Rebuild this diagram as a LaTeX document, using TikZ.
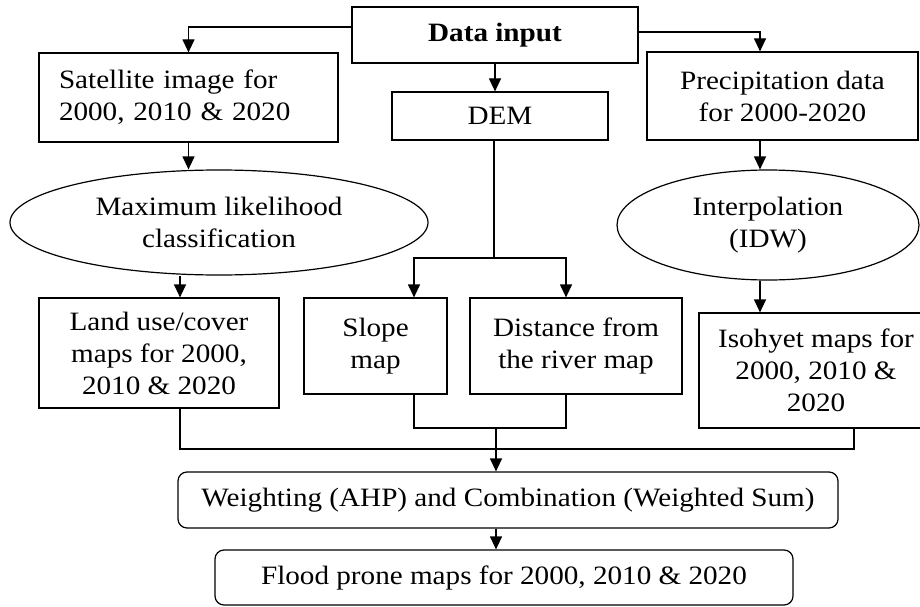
\documentclass[tikz,border=0pt]{standalone}
\usepackage{fontspec}
\setmainfont{Liberation Serif}[FakeStretch=1.1]
\usetikzlibrary{arrows.meta,shapes.geometric}

\begin{document}
\begin{tikzpicture}[x=1pt, y=-1pt, line width=1.2pt,
	font=\fontsize{26.5}{32}\selectfont,
	box/.style={draw, rectangle, inner sep=0pt, align=center},
	rbox/.style={box, rounded corners=9pt},
	oval/.style={draw, ellipse, inner sep=0pt, align=center},
	arr/.style={-{Triangle[length=13pt,width=12pt]}}]
	\useasboundingbox (0,0) rectangle (920,607);

	%inputs
	\node (input) at (495, 35) [box, minimum width=286pt, minimum height=56pt]{\textbf{Data input}};
	\node (sat) at (188.5, 97.5) [box, text width=259pt, inner xsep=20pt, minimum height=89pt, align=left]{Satellite image for\\2000, 2010 \& 2020};
	\node (dem) at (500, 116) [box, minimum width=216pt, minimum height=48pt]{DEM};
	\node (rain) at (782.5, 96) [box, minimum width=271pt, minimum height=88pt]{Precipitation data\\for 2000-2020};

	%processing
	\node (mlc) at (219, 222.5) [oval, minimum width=418pt, minimum height=105pt]{Maximum likelihood\\classification};
	\node (idw) at (768, 225) [oval, minimum width=302pt, minimum height=110pt]{Interpolation\\(IDW)};

	%factor maps
	\node (lulc) at (159, 353) [box, minimum width=240pt, minimum height=110pt]{Land use/cover\\maps for 2000,\\2010 \& 2020};
	\node (slope) at (375.5, 346) [box, minimum width=143pt, minimum height=96pt]{Slope\\map};
	\node (dist) at (576, 346) [box, minimum width=212pt, minimum height=96pt]{Distance from\\the river map};
	\node (iso) at (816, 370.5) [box, minimum width=234pt, minimum height=115pt]{Isohyet maps for\\2000, 2010 \&\\2020};

	%result
	\node (ahp) at (508, 500) [rbox, minimum width=660pt, minimum height=56pt]{Weighting (AHP) and Combination (Weighted Sum)};
	\node (flood) at (504, 577.5) [rbox, minimum width=578pt, minimum height=55pt]{Flood prone maps for 2000, 2010 \& 2020};

	%arrows from data input
	\draw[arr] ([yshift=8pt]input.west) -| (sat.north);
	\draw[arr] (input.south) -- (input.south |- dem.north);
	\draw[arr] ([yshift=3pt]input.east) -| ([xshift=-22.5pt]rain.north);

	\draw[arr] (sat.south) -- (sat.south |- mlc.north);
	\draw[arr] ([xshift=21pt]lulc.north |- mlc.south) -- ([xshift=21pt]lulc.north);

	\draw[arr] ([xshift=-22.5pt]rain.south) -- ([xshift=-22.5pt]rain.south |- idw.north);
	\draw[arr] ([xshift=-56pt]iso.north |- idw.south) -- ([xshift=-56pt]iso.north);

	%dem split
	\coordinate (split) at (494, 258);
	\draw (split |- dem.south) -- (split);
	\draw[arr] (split) -| ([xshift=38.5pt]slope.north);
	\draw[arr] (split) -| ([xshift=-10pt]dist.north);

	%collecting lines
	\coordinate (join) at (496, 428);
	\coordinate (bus) at (496, 449);
	\draw ([xshift=38.5pt]slope.south) |- (join) -| ([xshift=-10pt]dist.south);
	\draw ([xshift=21pt]lulc.south) |- (bus) -| ([xshift=38pt]iso.south);
	\draw[arr] (join) -- (join |- ahp.north);
	\draw[arr] (join |- ahp.south) -- (join |- flood.north);
\end{tikzpicture}
\end{document}
